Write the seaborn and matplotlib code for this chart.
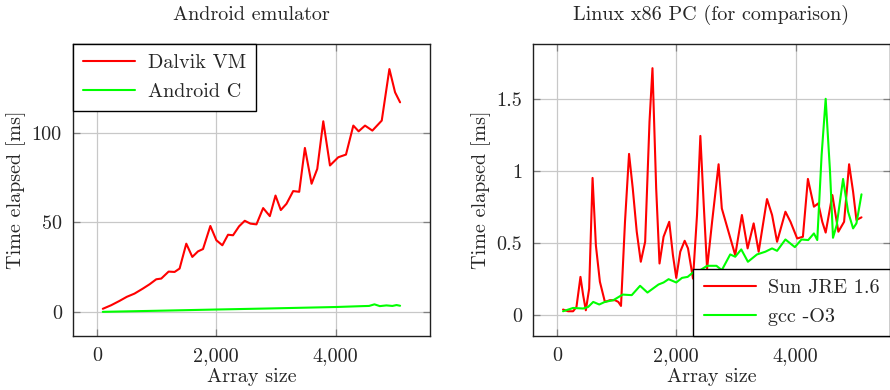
import numpy as np
import pandas as pd
import matplotlib
matplotlib.use("Agg")
import matplotlib.pyplot as plt
from matplotlib.ticker import FuncFormatter, FixedLocator
import seaborn as sns

# ---------------- data ----------------
dalvik_x = [101, 241, 380, 503, 632, 772, 884, 996, 1080, 1203, 1303, 1387, 1499, 1600,
            1695, 1779, 1902, 2003, 2103, 2198, 2282, 2383, 2478, 2573, 2674, 2786, 2898,
            2993, 3082, 3177, 3289, 3390, 3485, 3597, 3692, 3793, 3905, 4044, 4173, 4296,
            4385, 4492, 4615, 4772, 4900, 4995, 5079]
dalvik_y = [1.7, 3.7, 6.1, 8.4, 10.2, 13.0, 15.4, 18.2, 18.6, 22.5, 22.3, 24.2, 38.1, 30.7,
            33.8, 35.1, 48.0, 40.0, 37.2, 43.1, 42.8, 47.8, 50.9, 49.3, 48.9, 58.0, 53.5,
            65.0, 56.9, 60.4, 67.5, 67.1, 91.6, 71.6, 79.9, 106.5, 81.8, 86.4, 87.9, 104.1,
            100.9, 104.1, 101.3, 106.9, 135.7, 122.7, 117.1]

androidc_x = [101, 1000, 2000, 2900, 4000, 4450, 4560, 4650, 4740, 4850, 4950, 5020, 5079]
androidc_y = [0.0, 0.6, 1.3, 1.9, 2.7, 3.2, 3.3, 4.2, 3.2, 3.6, 3.3, 3.8, 3.4]

sun_x = [101, 185, 270, 326, 393, 438, 483, 539, 596, 652, 719, 803, 888, 972, 1028, 1073,
         1140, 1208, 1270, 1337, 1405, 1478, 1551, 1601, 1663, 1719, 1787, 1882, 1944, 2000,
         2067, 2141, 2197, 2281, 2348, 2404, 2461, 2517, 2601, 2710, 2764, 2876, 2989, 3101,
         3197, 3298, 3382, 3522, 3607, 3691, 3831, 3916, 4028, 4124, 4208, 4309, 4382, 4449,
         4506, 4618, 4719, 4815, 4899, 4966, 5022, 5107]
sun_y = [0.035, 0.023, 0.023, 0.053, 0.262, 0.135, 0.03, 0.18, 0.95, 0.48, 0.228, 0.088,
         0.10, 0.10, 0.088, 0.06, 0.645, 1.117, 0.878, 0.576, 0.367, 0.506, 1.34, 1.713,
         0.878, 0.355, 0.541, 0.645, 0.413, 0.255, 0.437, 0.513, 0.46, 0.25, 0.692, 1.242,
         0.762, 0.32, 0.645, 1.045, 0.738, 0.576, 0.413, 0.692, 0.46, 0.634, 0.437, 0.803,
         0.692, 0.506, 0.715, 0.645, 0.529, 0.541, 0.943, 0.75, 0.773, 0.645, 0.57, 0.831,
         0.576, 0.645, 1.045, 0.854, 0.657, 0.676]

gcc_x = [101, 270, 438, 522, 607, 708, 803, 944, 1101, 1253, 1393, 1517, 1702, 1787, 1871,
         2000, 2096, 2191, 2292, 2404, 2517, 2674, 2764, 2905, 2989, 3090, 3202, 3354, 3494,
         3607, 3691, 3831, 3989, 4101, 4213, 4309, 4365, 4438, 4506, 4579, 4629, 4691, 4798,
         4882, 4966, 5022, 5107]
gcc_y = [0.023, 0.046, 0.042, 0.053, 0.088, 0.07, 0.088, 0.10, 0.139, 0.135, 0.2, 0.153,
         0.209, 0.223, 0.246, 0.223, 0.255, 0.262, 0.297, 0.309, 0.339, 0.339, 0.309, 0.418,
         0.402, 0.453, 0.367, 0.418, 0.437, 0.46, 0.443, 0.522, 0.469, 0.522, 0.518, 0.564,
         0.518, 1.11, 1.5, 0.994, 0.534, 0.622, 0.943, 0.715, 0.599, 0.634, 0.836]

titles = ["Android emulator", "Linux x86 PC (for comparison)"]
left_labels = ["Dalvik VM", "Android C"]
right_labels = ["Sun JRE 1.6", "gcc -O3"]
x_ticks = [0, 2000, 4000]
left_yticks = [0, 50, 100]
right_yticks = [0, 0.5, 1, 1.5]
xlabel = "Array size"
ylabel = "Time elapsed [ms]"

# ---------------- style ----------------
sns.set_theme(style="white")
plt.rcParams["font.family"] = ["cmr10", "DejaVu Serif"]
plt.rcParams["mathtext.fontset"] = "cm"
plt.rcParams["axes.unicode_minus"] = False
plt.rcParams["axes.formatter.use_mathtext"] = True
FS = 14.5

fig = plt.figure(figsize=(8.9, 3.9), dpi=100)
ax1 = fig.add_axes([73 / 890, 1 - 336 / 390, 357 / 890, 292 / 390])
ax2 = fig.add_axes([533.3 / 890, 1 - 336 / 390, 356.4 / 890, 292 / 390])

RED = "#ff0000"
GREEN = "#00ff00"
LW = 1.5

sns.lineplot(x=dalvik_x, y=dalvik_y, ax=ax1, color=RED, lw=LW, sort=False,
             estimator=None, label=left_labels[0])
sns.lineplot(x=androidc_x, y=androidc_y, ax=ax1, color=GREEN, lw=LW, sort=False,
             estimator=None, label=left_labels[1])
sns.lineplot(x=sun_x, y=sun_y, ax=ax2, color=RED, lw=LW, sort=False,
             estimator=None, label=right_labels[0])
sns.lineplot(x=gcc_x, y=gcc_y, ax=ax2, color=GREEN, lw=LW, sort=False,
             estimator=None, label=right_labels[1])

comma_fmt = FuncFormatter(lambda v, p: f"{v:,.0f}")
g_fmt = FuncFormatter(lambda v, p: f"{v:g}")

for ax, yt, title, lim in [(ax1, left_yticks, titles[0], (-13.5, 149.7)),
                           (ax2, right_yticks, titles[1], (-0.149, 1.881))]:
    ax.set_xlim(-398, 5580)
    ax.set_ylim(*lim)
    ax.xaxis.set_major_locator(FixedLocator(x_ticks))
    ax.yaxis.set_major_locator(FixedLocator(yt))
    ax.xaxis.set_major_formatter(comma_fmt)
    ax.yaxis.set_major_formatter(g_fmt)
    ax.grid(True, color="#c8c8c8", lw=0.9)
    ax.set_axisbelow(True)
    ax.tick_params(direction="in", length=5, width=0.9, color="#808080",
                   top=True, right=True, bottom=True, left=True,
                   labelsize=FS, pad=8)
    for s in ax.spines.values():
        s.set_color("#202020")
        s.set_linewidth(1.0)
    ax.set_title(title, fontsize=FS, pad=17)
    ax.set_xlabel(xlabel, fontsize=FS, labelpad=2)
    ax.set_ylabel(ylabel, fontsize=FS, labelpad=4)

for ax, loc in [(ax1, "upper left"), (ax2, "lower right")]:
    leg = ax.legend(loc=loc, fontsize=FS, frameon=True, fancybox=False,
                    borderaxespad=0, handlelength=2.6, handletextpad=0.6,
                    borderpad=0.5, labelspacing=0.55)
    leg.get_frame().set_edgecolor("black")
    leg.get_frame().set_linewidth(1.0)
    leg.get_frame().set_alpha(1)

fig.savefig("out.png", dpi=100)
